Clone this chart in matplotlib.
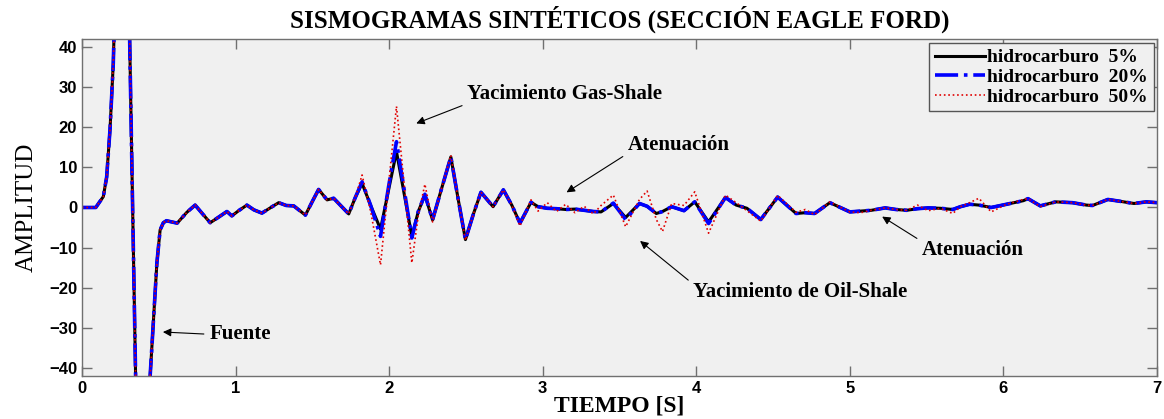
import matplotlib
matplotlib.use("Agg")
import matplotlib.pyplot as plt

# ---- data (time in s, amplitude) ----
tiempo = [0.00, 0.09, 0.139, 0.161, 0.183, 0.204, 0.27, 0.39, 0.444, 0.466,
          0.488, 0.509, 0.53, 0.55, 0.62, 0.683, 0.737, 0.79, 0.835, 0.89,
          0.944, 0.976, 1.02, 1.074, 1.12, 1.172, 1.23, 1.281, 1.33, 1.379,
          1.455, 1.50, 1.541, 1.596, 1.639, 1.737, 1.78, 1.824, 1.88, 1.944,
          2.00, 2.048, 2.10, 2.148, 2.19, 2.233, 2.283, 2.34, 2.402, 2.45,
          2.497, 2.55, 2.598, 2.677, 2.744, 2.80, 2.852, 2.924, 2.97, 3.03,
          3.09, 3.15, 3.21, 3.27, 3.33, 3.38, 3.46, 3.54, 3.63, 3.68,
          3.74, 3.78, 3.84, 3.92, 3.99, 4.08, 4.19, 4.26, 4.33, 4.42,
          4.53, 4.65, 4.71, 4.77, 4.87, 5.00, 5.07, 5.14, 5.23, 5.30,
          5.37, 5.44, 5.51, 5.59, 5.67, 5.72, 5.78, 5.84, 5.92, 6.02,
          6.13, 6.16, 6.24, 6.34, 6.45, 6.54, 6.58, 6.68, 6.75, 6.85,
          6.93, 7.00]

hc_5 = [0, 0, 2.7, 7.6, 19.6, 35.9, 130, -130, -42, -27.9,
        -13.8, -5.6, -3.8, -3.3, -3.9, -1.2, 0.6, -1.8, -3.8, -2.4,
        -1.0, -2.1, -0.8, 0.6, -0.6, -1.4, 0.0, 1.2, 0.5, 0.4,
        -1.9, 1.5, 4.5, 1.9, 2.3, -1.6, 2.5, 6.0, 0.5, -5.4,
        5.0, 13.9, 3.0, -7.2, -1.0, 3.1, -3.1, 4.5, 12.6, 2.0,
        -8.0, -1.5, 3.8, 0.2, 4.4, 0.5, -3.9, 1.3, 0.2, -0.2,
        -0.3, -0.5, -0.4, -0.7, -1.0, -1.1, 1.0, -2.5, 1.0, 0.3,
        -1.5, -1.0, 0.2, -0.8, 1.4, -3.6, 2.5, 0.6, -0.2, -3.0,
        2.6, -1.5, -1.3, -1.5, 1.2, -1.1, -0.9, -0.7, -0.1, -0.5,
        -0.7, -0.3, -0.1, -0.2, -0.5, 0.2, 0.8, 0.6, 0.0, 0.8,
        1.7, 2.2, 0.4, 1.4, 1.2, 0.6, 0.5, 2.0, 1.6, 1.0,
        1.4, 1.2]

hc_20 = [0, 0, 2.7, 7.6, 19.6, 35.9, 130, -130, -42, -27.9,
         -13.8, -5.6, -3.8, -3.3, -3.9, -1.2, 0.6, -1.8, -3.8, -2.4,
         -1.0, -2.1, -0.8, 0.6, -0.6, -1.4, 0.0, 1.2, 0.5, 0.4,
         -1.9, 1.5, 4.5, 1.9, 2.3, -1.6, 2.5, 6.4, 0.5, -7.2,
         6.0, 16.4, 4.0, -7.6, -1.0, 3.3, -3.1, 4.5, 12.6, 2.0,
         -8.0, -1.5, 3.8, 0.2, 4.4, 0.5, -3.9, 1.3, 0.2, -0.2,
         -0.3, -0.5, -0.4, -0.7, -1.0, -1.1, 1.1, -3.0, 1.0, 0.3,
         -1.5, -1.0, 0.2, -0.8, 1.4, -4.0, 2.5, 0.6, -0.2, -3.0,
         2.6, -1.5, -1.3, -1.5, 1.2, -1.1, -0.9, -0.7, -0.1, -0.5,
         -0.7, -0.3, -0.1, -0.2, -0.5, 0.2, 0.8, 0.6, 0.0, 0.8,
         1.7, 2.2, 0.4, 1.4, 1.2, 0.6, 0.5, 2.0, 1.6, 1.0,
         1.4, 1.2]

hc_50 = [0, 0, 2.7, 7.6, 19.6, 35.9, 130, -130, -42, -27.9,
         -13.8, -5.6, -3.8, -3.3, -3.9, -1.2, 0.6, -1.8, -3.8, -2.4,
         -1.0, -2.1, -0.8, 0.6, -0.6, -1.4, 0.0, 1.2, 0.5, 0.4,
         -1.9, 1.5, 4.5, 1.9, 2.3, -1.6, 2.5, 8.1, -1.0, -14.3,
         7.0, 25.2, 5.0, -13.8, -2.0, 5.8, -3.6, 4.5, 13.0, 2.0,
         -8.2, -1.5, 3.8, 0.2, 4.4, 0.5, -4.6, 1.9, -0.9, 1.2,
         -1.0, 0.8, -1.3, 0.3, -1.6, 0.5, 3.1, -4.8, 2.0, 4.1,
         -3.0, -6.0, 1.0, 0.5, 3.9, -6.4, 3.1, 1.2, -0.8, -3.4,
         3.0, -1.2, -0.5, -1.8, 1.4, -1.1, -1.3, -0.7, -0.1, -0.5,
         -0.7, 0.6, -0.8, -0.2, -1.5, 0.2, 1.2, 2.3, -1.1, 0.8,
         2.0, 2.2, 0.2, 1.4, 1.2, 0.6, 0.5, 2.0, 1.6, 1.0,
         1.4, 1.2]

etiquetas = ['hidrocarburo  5%', 'hidrocarburo  20%', 'hidrocarburo  50%']

serif = 'Liberation Serif'
sans = 'Liberation Sans'

fig = plt.figure(figsize=(11.64, 4.19), dpi=100)
ax = fig.add_axes([0.0704, 0.1026, 0.9236, 0.8044])
ax.set_facecolor('#f0f0f0')

ax.plot(tiempo, hc_5, color='k', lw=2.2, ls='-', solid_joinstyle='round',
        label=etiquetas[0])
ax.plot(tiempo, hc_20, color='#0000ff', lw=2.6, ls='-.', dash_joinstyle='round',
        label=etiquetas[1])
ax.plot(tiempo, hc_50, color='#e00000', lw=1.2, ls=':', label=etiquetas[2])

ax.set_xlim(0, 7)
ax.set_ylim(-42, 42)
ax.set_xticks(range(0, 8))
ax.set_yticks(range(-40, 41, 10))
ax.tick_params(direction='in', length=7, width=1, color='#707070',
               top=True, right=True, labelsize=12)
for lab in ax.get_xticklabels() + ax.get_yticklabels():
    lab.set_fontfamily(sans)
    lab.set_fontweight('bold')
for s in ax.spines.values():
    s.set_color('#707070')
    s.set_linewidth(1)

ax.set_title('SISMOGRAMAS SINTÉTICOS (SECCIÓN EAGLE FORD)', fontsize=18,
             fontweight='bold', family=serif, pad=8)
ax.set_xlabel('TIEMPO [S]', fontsize=17, fontweight='bold', family=serif, labelpad=0)
ax.set_ylabel('AMPLITUD', fontsize=18, family=serif, labelpad=8)

leg = ax.legend(loc='upper right', bbox_to_anchor=(0.997, 0.988), borderaxespad=0,
                prop={'family': serif, 'weight': 'bold', 'size': 14},
                handlelength=2.6, handletextpad=0.1, labelspacing=0.1,
                borderpad=0.3, fancybox=False, framealpha=1)
leg.get_frame().set_facecolor('#f0f0f0')
leg.get_frame().set_edgecolor('#555555')

flecha = dict(arrowstyle='-|>', color='k', lw=0.8, mutation_scale=12)
txt = dict(fontsize=15, fontweight='bold', family=serif, ha='left', va='center')

ax.annotate('Yacimiento Gas-Shale', xy=(2.16, 20.7), xytext=(2.51, 28.4),
            arrowprops=dict(flecha, relpos=(0, 0)), **txt)
ax.annotate('Atenuación', xy=(3.14, 3.4), xytext=(3.555, 15.5),
            arrowprops=dict(flecha, relpos=(0, 0.1)), **txt)
ax.annotate('Yacimiento de Oil-Shale', xy=(3.62, -7.9), xytext=(3.98, -21.1),
            arrowprops=dict(flecha, relpos=(0, 0.9)), **txt)
ax.annotate('Atenuación', xy=(5.195, -1.9), xytext=(5.47, -10.5),
            arrowprops=dict(flecha, relpos=(0, 0.9)), **txt)
ax.annotate('Fuente', xy=(0.509, -31.0), xytext=(0.83, -31.6),
            arrowprops=dict(flecha, relpos=(0, 0.5)), **txt)

fig.savefig('out.png', dpi=100, facecolor='white')
